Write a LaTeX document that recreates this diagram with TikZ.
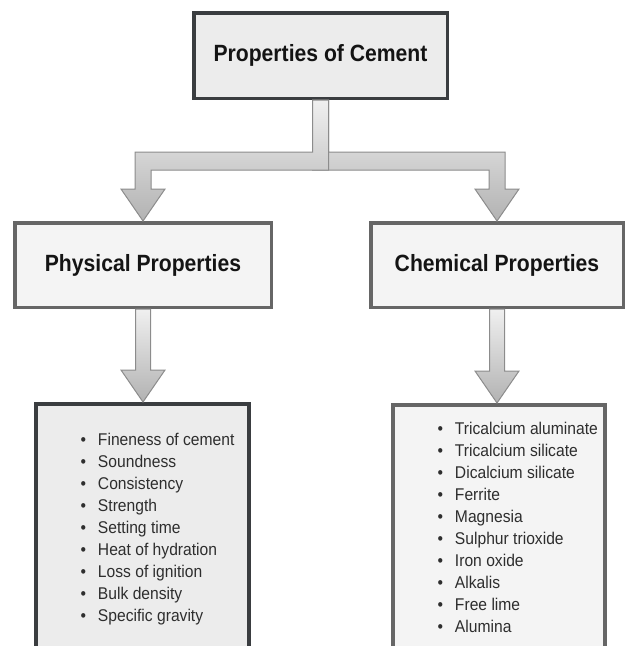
\documentclass[tikz,border=0pt]{standalone}
\usepackage{fontspec}
\setmainfont{Liberation Sans}
\newfontfamily\headfont[FakeStretch=0.9]{Liberation Sans}
\newfontfamily\listfont[FakeStretch=0.92]{Liberation Sans}
\usetikzlibrary{calc}

\definecolor{darkedge}{HTML}{3A3D40}
\definecolor{darkfill}{HTML}{ECECEC}
\definecolor{greyedge}{HTML}{666666}
\definecolor{greyfill}{HTML}{F4F4F4}
\definecolor{arredge}{HTML}{8C8C8C}
\definecolor{arrtop}{HTML}{F0F0F0}
\definecolor{arrbot}{HTML}{B2B2B2}

% one bullet line of a list box
\newcommand{\itm}[1]{\noindent\llap{{\fontsize{17}{17}\selectfont\textbullet}\hspace{12pt}}#1\par}
\newcommand{\listbody}[2]{\begin{minipage}[t]{#1}\listfont\fontsize{17}{22}\selectfont
  \raggedright\leftskip=62pt #2\end{minipage}}

\begin{document}
\begin{tikzpicture}[x=1pt,y=-1pt,
  headbox/.style={draw=darkedge,fill=darkfill,line width=3.5pt,
    minimum width=253.5pt,minimum height=85.5pt,
    font=\headfont\bfseries\fontsize{23.5}{28}\selectfont,text=black!92},
  subbox/.style={draw=greyedge,fill=greyfill,line width=3.5pt,
    minimum height=84.5pt,
    font=\headfont\bfseries\fontsize{23.5}{28}\selectfont,text=black!92},
  listbox/.style={line width=3.5pt,inner sep=0pt,anchor=north,
    text depth=260pt,text=black!82},
  blockarr/.style={draw=arredge,line width=1pt,line join=miter,
    top color=arrtop,bottom color=arrbot}]
  \useasboundingbox (0,0) rectangle (627,646);
  \clip (0,0) rectangle (627,646);

  \node[headbox] (cement) at (320.5,55.5) {Properties of Cement};
  \node[subbox,minimum width=256.5pt] (phys) at (143,265) {Physical Properties};
  \node[subbox,minimum width=252.5pt] (chem) at (497,265) {Chemical Properties};

  \node[listbox,draw=darkedge,fill=darkfill,text height=41.25pt] (physlist) at (142.5,402)
    {\listbody{213pt}{\itm{Fineness of cement}\itm{Soundness}\itm{Consistency}
     \itm{Strength}\itm{Setting time}\itm{Heat of hydration}\itm{Loss of ignition}
     \itm{Bulk density}\itm{Specific gravity}}};
  \node[listbox,draw=greyedge,fill=greyfill,text height=29.25pt] (chemlist) at (499,403)
    {\listbody{212pt}{\itm{Tricalcium aluminate}\itm{Tricalcium silicate}
     \itm{Dicalcium silicate}\itm{Ferrite}\itm{Magnesia}\itm{Sulphur trioxide}
     \itm{Iron oxide}\itm{Alkalis}\itm{Free lime}\itm{Alumina}}};

  % split arrow, right branch under the left one
  \path[blockarr] let \p1=(cement.south), \p2=(chem.north) in
    (\x1-8pt,\y1) -- (\x1-8pt,-170pt) -- (\x2-8pt,-170pt) -- (\x2-8pt,\y2+32pt)
    -- (\x2-22pt,\y2+32pt) -- (\x2,\y2) -- (\x2+22pt,\y2+32pt) -- (\x2+8pt,\y2+32pt)
    -- (\x2+8pt,-152pt) -- (\x1+8pt,-152pt) -- (\x1+8pt,\y1) -- cycle;
  \path[blockarr] let \p1=(cement.south), \p2=(phys.north) in
    (\x1-8pt,\y1) -- (\x1-8pt,-152pt) -- (\x2-8pt,-152pt) -- (\x2-8pt,\y2+32pt)
    -- (\x2-22pt,\y2+32pt) -- (\x2,\y2) -- (\x2+22pt,\y2+32pt) -- (\x2+8pt,\y2+32pt)
    -- (\x2+8pt,-170pt) -- (\x1+8pt,-170pt) -- (\x1+8pt,\y1) -- cycle;

  \foreach \a/\b in {phys/physlist,chem/chemlist}
    \path[blockarr] let \p1=(\a.south), \p2=(\b.north) in
      (\x1-7.5pt,\y1) -- (\x1-7.5pt,\y2+32pt) -- (\x1-22pt,\y2+32pt) -- (\x1,\y2)
      -- (\x1+22pt,\y2+32pt) -- (\x1+7.5pt,\y2+32pt) -- (\x1+7.5pt,\y1) -- cycle;
\end{tikzpicture}
\end{document}
